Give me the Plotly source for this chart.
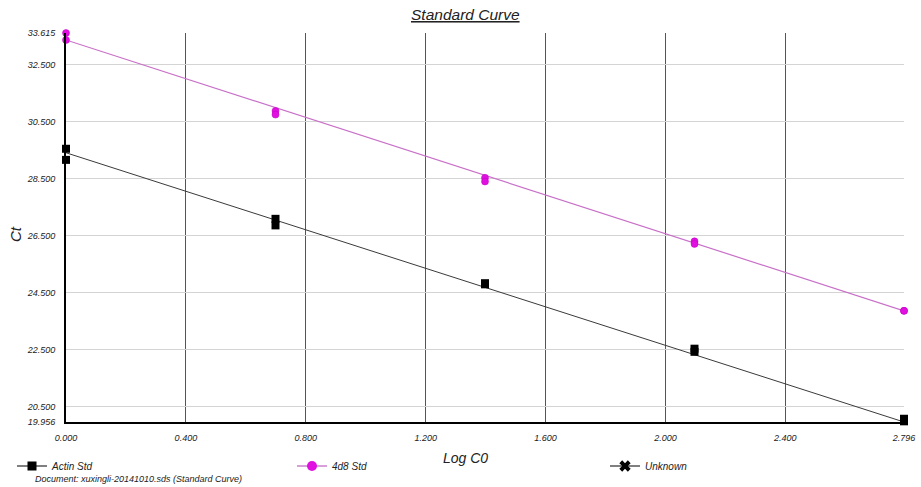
import plotly.graph_objects as go

# ---- data ----
log_c0 = [0.0, 0.0, 0.699, 0.699, 1.398, 1.398, 2.097, 2.097, 2.796, 2.796]
actin_ct = [29.55, 29.16, 27.09, 26.86, 24.83, 24.79, 22.53, 22.42, 20.07, 19.98]
d48_ct = [33.615, 33.37, 30.88, 30.75, 28.53, 28.40, 26.30, 26.21, 23.86, 23.86]

fit_x = [0.0, 2.796]
actin_fit = [29.41, 19.956]
d48_fit = [33.37, 23.86]

x_ticks = [0.0, 0.4, 0.8, 1.2, 1.6, 2.0, 2.4, 2.796]
x_tick_text = ["0.000", "0.400", "0.800", "1.200", "1.600", "2.000", "2.400", "2.796"]
y_ticks = [19.956, 20.5, 22.5, 24.5, 26.5, 28.5, 30.5, 32.5, 33.615]
y_tick_text = ["19.956", "20.500", "22.500", "24.500", "26.500", "28.500", "30.500", "32.500", "33.615"]

FONT = "Liberation Sans, Arial, sans-serif"
MAG = "#e010e0"
MAG_LINE = "#c870c8"

W, H = 921, 487
L, R, T, B = 66, 17, 33, 65
PW, PH = W - L - R, H - T - B


def px(img_x):
    return (img_x - L) / PW


def py(img_y):
    return (H - B - img_y) / PH


def cx(img_x):
    return img_x / W


def cy(img_y):
    return 1 - img_y / H


fig = go.Figure()

# fit lines
fig.add_trace(go.Scatter(x=fit_x, y=actin_fit, mode="lines",
                         line=dict(color="#3a3a3a", width=1), showlegend=False,
                         cliponaxis=False, hoverinfo="skip"))
fig.add_trace(go.Scatter(x=fit_x, y=d48_fit, mode="lines",
                         line=dict(color=MAG_LINE, width=1.2), showlegend=False,
                         cliponaxis=False, hoverinfo="skip"))

# data points
fig.add_trace(go.Scatter(x=log_c0, y=actin_ct, mode="markers",
                         marker=dict(symbol="square", size=8, color="black"),
                         showlegend=False, cliponaxis=False))
fig.add_trace(go.Scatter(x=log_c0, y=d48_ct, mode="markers",
                         marker=dict(symbol="circle", size=7, color=MAG,
                                     line=dict(color="#c000c0", width=0.5)),
                         showlegend=False, cliponaxis=False))

# legend entries
fig.add_trace(go.Scatter(x=[None], y=[None], mode="lines+markers", name="Actin Std",
                         line=dict(color="black", width=1),
                         marker=dict(symbol="square", size=9, color="black"),
                         legend="legend"))
fig.add_trace(go.Scatter(x=[None], y=[None], mode="lines+markers", name="4d8 Std",
                         line=dict(color="#b040b0", width=1),
                         marker=dict(symbol="circle", size=10, color=MAG),
                         legend="legend2"))
fig.add_trace(go.Scatter(x=[None], y=[None], mode="lines+markers", name="Unknown",
                         line=dict(color="black", width=1),
                         marker=dict(symbol="x", size=10, color="black"),
                         legend="legend3"))

leg_common = dict(orientation="h", xref="container", yref="container",
                  yanchor="middle", xanchor="left", bgcolor="rgba(0,0,0,0)",
                  font=dict(family=FONT, size=10, color="#222", style="italic"),
                  itemwidth=30)

fig.update_layout(
    width=W, height=H,
    paper_bgcolor="white", plot_bgcolor="white",
    margin=dict(l=L, r=R, t=T, b=B, autoexpand=False),
    font=dict(family=FONT),
    xaxis=dict(range=[0, 2.796], tickvals=x_ticks, ticktext=x_tick_text,
               showgrid=True, gridcolor="#555555", gridwidth=1,
               showline=True, linecolor="black", linewidth=2,
               zeroline=False, ticks="", ticklabelstandoff=6, automargin=False,
               tickfont=dict(family=FONT, size=9, color="#222", style="italic")),
    yaxis=dict(range=[19.956, 33.615], tickvals=y_ticks, ticktext=y_tick_text,
               showgrid=True, gridcolor="#d4d4d4", gridwidth=1,
               showline=True, linecolor="black", linewidth=2,
               zeroline=False, ticks="", ticklabelstandoff=7, automargin=False,
               tickfont=dict(family=FONT, size=9, color="#222", style="italic")),
    legend=dict(x=cx(12), y=cy(466), **leg_common),
    legend2=dict(x=cx(292), y=cy(466), **leg_common),
    legend3=dict(x=cx(605), y=cy(466), **leg_common),
    annotations=[
        dict(text="<u>Standard Curve</u>", xref="paper", yref="paper",
             x=px(465), y=py(14), xanchor="center", yanchor="middle",
             showarrow=False, font=dict(family=FONT, size=15.5, color="#222", style="italic")),
        dict(text="Log C0", xref="paper", yref="paper",
             x=px(465), y=py(458), xanchor="center", yanchor="middle",
             showarrow=False, font=dict(family=FONT, size=14, color="#222", style="italic")),
        dict(text="Ct", xref="paper", yref="paper", textangle=-90,
             x=px(15), y=py(234), xanchor="center", yanchor="middle",
             showarrow=False, font=dict(family=FONT, size=15, color="#222", style="italic")),
        dict(text="Document: xuxingli-20141010.sds (Standard Curve)", xref="paper", yref="paper",
             x=px(33), y=py(479), xanchor="left", yanchor="middle",
             showarrow=False, font=dict(family=FONT, size=9, color="#222", style="italic")),
    ],
)

fig.write_html("out.html", config={"displayModeBar": False},
               post_script="document.body.style.margin='0';")
